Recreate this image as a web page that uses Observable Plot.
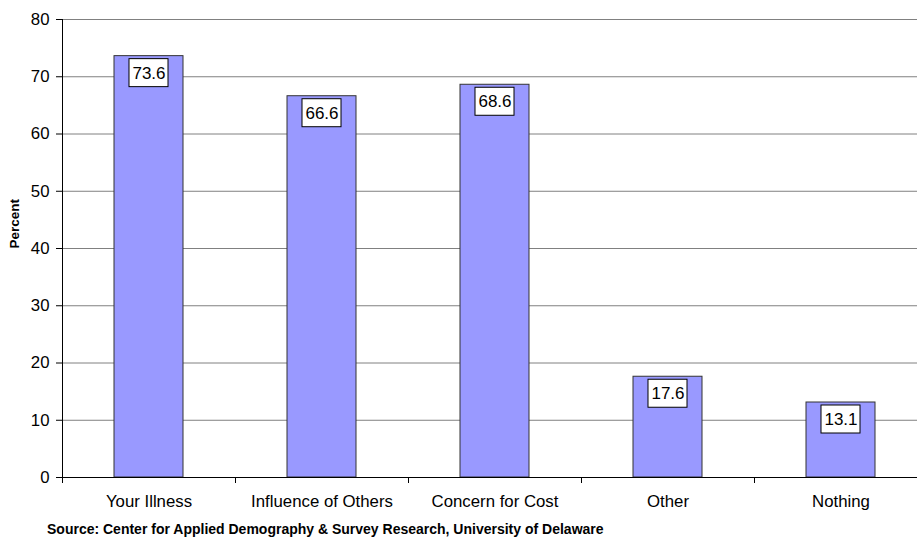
<!DOCTYPE html>
<html><head><meta charset="utf-8">
<script src="https://cdn.jsdelivr.net/npm/d3@7"></script>
<script src="https://cdn.jsdelivr.net/npm/@observablehq/plot@0.6"></script>
<style>
html,body{margin:0;padding:0;background:#fff;overflow:hidden;width:917px;height:537px}
#wrap{position:relative;width:917px;height:537px;overflow:hidden}
#chart{position:absolute;left:0;top:0;width:927px}
#chart svg{max-width:none !important;width:927px;height:510px}
#source{position:absolute;left:47px;top:521px;font:bold 14px "Liberation Sans",Arial,sans-serif;line-height:16px;color:#000;white-space:nowrap}
</style></head><body>
<div id="wrap"><div id="chart"></div><div id="source"></div></div>
<script>
const categories = ["Your Illness", "Influence of Others", "Concern for Cost", "Other", "Nothing"];
const values = [73.6, 66.6, 68.6, 17.6, 13.1];
const yTicks = [0, 10, 20, 30, 40, 50, 60, 70, 80];
const yLabel = "Percent";
const sourceText = "Source: Center for Applied Demography & Survey Research, University of Delaware";

const data = categories.map((c, i) => ({category: c, value: values[i]}));

const W = 927, H = 510, mL = 62, mR = 0, mT = 19, mB = 33;
const xOpts = {type: "band", domain: categories, paddingInner: 0.6, paddingOuter: 0.3};
const xs = Plot.scale({x: {...xOpts, range: [mL, W - mR]}});
const step = xs.step ?? (W - mL - mR) / categories.length;

const chart = Plot.plot({
  width: W, height: H,
  marginLeft: mL, marginRight: mR, marginTop: mT, marginBottom: mB,
  style: {fontFamily: '"Liberation Sans", Arial, sans-serif', fontSize: "16.8px", color: "#000", background: "#fff"},
  x: {...xOpts, label: null},
  y: {domain: [0, 80], ticks: yTicks, label: null},
  marks: [
    Plot.gridY(yTicks, {stroke: "#808080", strokeOpacity: 1}),
    Plot.barY(data, {x: "category", y: "value", fill: "#9999ff", stroke: "#333", strokeWidth: 1}),
    Plot.barY(data, {x: "category", y1: "value", y2: "value", insetLeft: 15, insetRight: 15, insetTop: 3, insetBottom: -31, fill: "white", stroke: "black"}),
    Plot.text(data, {x: "category", y: "value", text: d => d.value.toFixed(1), dy: 17, fontSize: 17, fill: "black"}),
    Plot.ruleY([0], {stroke: "black"}),
    Plot.frame({anchor: "left", stroke: "black"}),
    Plot.axisY(yTicks, {tickSize: 6, tickPadding: 7, label: null, stroke: "black"}),
    Plot.axisX({tickSize: 0, tickPadding: 18, label: null}),
    Plot.ruleX(categories, {dx: -step / 2, y1: 0, y2: 0, insetBottom: -6, stroke: "black"}),
    Plot.text([yLabel], {frameAnchor: "left", rotate: -90, dx: -48, fontWeight: "bold", fontSize: 13.5, fill: "black"})
  ]
});
document.getElementById("chart").appendChild(chart);
document.getElementById("source").textContent = sourceText;
</script>
</body></html>
